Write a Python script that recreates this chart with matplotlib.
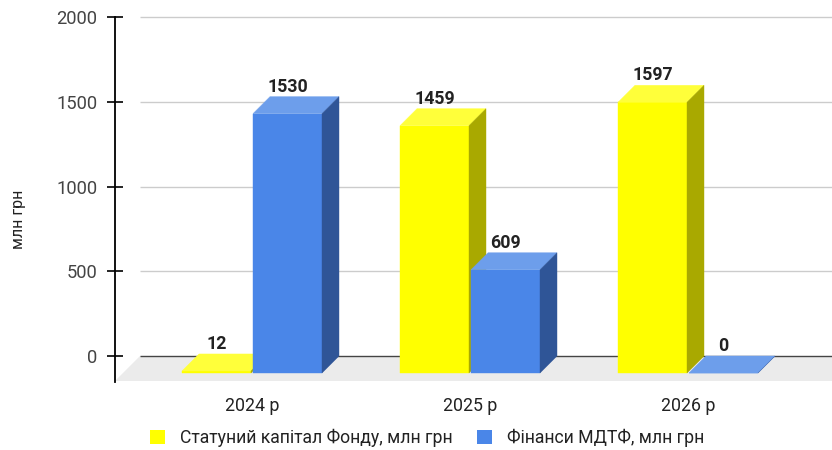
import matplotlib.pyplot as plt
from matplotlib.patches import Polygon, Patch

# data
years = ['2024 р', '2025 р', '2026 р']
capital = [12, 1459, 1597]
mdtf = [1530, 609, 0]
series_names = ['Статуний капітал Фонду, млн грн', 'Фінанси МДТФ, млн грн']
y_ticks = [0, 500, 1000, 1500, 2000]
y_max = 2000

# colours: front, top, side
yellow = ('#ffff00', '#ffff3a', '#a9a900')
blue = ('#4a86e8', '#6d9eeb', '#2f5597')

plt.rcParams['font.family'] = ['Roboto', 'DejaVu Sans']

W, H = 832, 450
fig = plt.figure(figsize=(W / 100, H / 100), dpi=100)
ax_l, ax_r, ax_t, ax_b = 115, 832, 10, 390
ax = fig.add_axes([ax_l / W, 1 - ax_b / H, (ax_r - ax_l) / W, (ax_b - ax_t) / H])

# pixel layout of the back wall
zero_px, top_px = 356, 17
y_per_px = y_max / (zero_px - top_px)
cat_px = 218          # distance between categories
x_per_px = 1 / cat_px
back_center0 = 269    # pixel x of first category on back wall
ylim = (-(ax_b - zero_px) * y_per_px, y_max + (top_px - ax_t) * y_per_px)
xlim = (-(back_center0 - ax_l) * x_per_px, (ax_r - back_center0) * x_per_px)
ax.set_xlim(xlim)
ax.set_ylim(ylim)

depth_x, depth_y = 17 * x_per_px, 17 * y_per_px       # bar depth
floor_x, floor_y = 25 * x_per_px, 25 * y_per_px       # floor depth
bar_w = 69 * x_per_px
bar_shift = 35.5 * x_per_px

# floor
ax.add_patch(Polygon([(xlim[0] + floor_x, 0), (xlim[1] + floor_x, 0),
                      (xlim[1], -floor_y), (xlim[0], -floor_y)],
                     closed=True, facecolor='#ebebeb', edgecolor='none', zorder=0.5))

# gridlines on back wall
grid_left = xlim[0] + floor_x
for t in y_ticks:
    ax.plot([grid_left, xlim[1]], [t, t], color='#444444' if t == 0 else '#cccccc',
            lw=1, zorder=1, solid_capstyle='butt')


def draw_bars(values, shift, colors, z):
    back_x = [i + shift for i in range(len(values))]
    front_x = [x - depth_x for x in back_x]
    ax.bar(front_x, values, width=bar_w, bottom=-depth_y, color=colors[0],
           edgecolor=colors[0], linewidth=0.3, zorder=z)
    for bx, v in zip(back_x, values):
        x0, x1 = bx - bar_w / 2, bx + bar_w / 2
        # top face
        ax.add_patch(Polygon([(x0 - depth_x, v - depth_y), (x1 - depth_x, v - depth_y),
                              (x1, v), (x0, v)], closed=True, facecolor=colors[1],
                             edgecolor=colors[1], linewidth=0.3, zorder=z))
        # side face
        ax.add_patch(Polygon([(x1 - depth_x, -depth_y), (x1 - depth_x, v - depth_y),
                              (x1, v), (x1, 0)], closed=True, facecolor=colors[2],
                             edgecolor=colors[2], linewidth=0.3, zorder=z))
        ax.annotate(str(v), (bx - depth_x, v), xytext=(0, 3.6), textcoords='offset points',
                    ha='center', va='baseline', fontsize=12.8, fontweight='bold',
                    color='#222222', zorder=5)


draw_bars(capital, -bar_shift, yellow, 2)
draw_bars(mdtf, bar_shift, blue, 3)

# axes styling
for s in ['top', 'right', 'bottom']:
    ax.spines[s].set_visible(False)
ax.spines['left'].set_bounds(-(382 - zero_px) * y_per_px, y_max)
ax.spines['left'].set_linewidth(1.3)
ax.set_yticks(y_ticks)
ax.tick_params(axis='y', direction='inout', length=12.2, width=1.2, pad=6.5,
               labelsize=13.2, labelcolor='#444444')
ax.set_xticks([i - depth_x for i in range(len(years))])
ax.set_xticklabels(years)
ax.tick_params(axis='x', length=0, pad=5, labelsize=12.8, labelcolor='#222222')

fig.text(18 / W, 1 - 219 / H, 'млн грн', rotation=90, ha='center', va='center',
         fontsize=11.5, color='#222222')

handles = [Patch(facecolor=yellow[0]), Patch(facecolor=blue[0])]
fig.legend(handles, series_names, loc='center', bbox_to_anchor=(427 / W, 1 - 438 / H),
           ncol=2, frameon=False, fontsize=12.7, handlelength=0.85, handleheight=0.85,
           handletextpad=0.85, columnspacing=1.36, labelcolor='#222222')

fig.savefig('out.png', dpi=100)
